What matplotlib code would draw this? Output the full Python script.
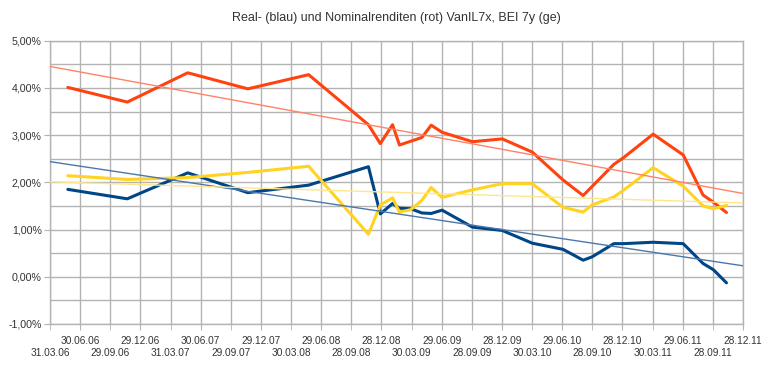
import matplotlib
matplotlib.use("Agg")
import matplotlib.pyplot as plt
import matplotlib.dates as mdates
from matplotlib.ticker import FixedLocator, FixedFormatter, FuncFormatter, MultipleLocator
import numpy as np
from datetime import datetime

# ---- data ----
dates = ["24.05.06", "20.11.06", "22.05.07", "20.11.07", "22.05.08", "19.11.08",
         "25.12.08", "31.01.09", "21.02.09", "27.03.09", "30.04.09", "28.05.09",
         "30.06.09", "30.09.09", "29.12.09", "30.03.10", "01.07.10", "31.08.10",
         "27.09.10", "02.12.10", "31.12.10", "31.03.11", "30.06.11", "29.08.11",
         "29.09.11", "08.11.11"]
nominal = [4.01, 3.70, 4.32, 3.98, 4.28, 3.22, 2.82, 3.22, 2.79, 2.87, 2.95, 3.21,
           3.06, 2.86, 2.92, 2.64, 2.05, 1.72, 1.91, 2.38, 2.52, 3.02, 2.58, 1.73,
           1.58, 1.36]
real = [1.85, 1.65, 2.20, 1.78, 1.94, 2.33, 1.33, 1.55, 1.45, 1.44, 1.35, 1.34,
        1.41, 1.05, 0.98, 0.71, 0.58, 0.35, 0.42, 0.70, 0.70, 0.73, 0.70, 0.28,
        0.15, -0.13]
bei = [2.14, 2.06, 2.10, 2.21, 2.34, 0.90, 1.52, 1.67, 1.37, 1.42, 1.62, 1.89,
       1.68, 1.84, 1.97, 1.97, 1.47, 1.37, 1.52, 1.69, 1.83, 2.31, 1.92, 1.50,
       1.44, 1.51]
tick_labels = ["31.03.06", "30.06.06", "29.09.06", "29.12.06", "31.03.07", "30.06.07",
               "29.09.07", "29.12.07", "30.03.08", "29.06.08", "28.09.08", "28.12.08",
               "30.03.09", "29.06.09", "28.09.09", "28.12.09", "30.03.10", "29.06.10",
               "28.09.10", "28.12.10", "30.03.11", "29.06.11", "28.09.11", "28.12.11"]
title = "Real- (blau) und Nominalrenditen (rot) VanIL7x, BEI 7y (ge)"

# ---- styling ----
plt.rcParams["font.family"] = ["Liberation Sans", "DejaVu Sans"]
grid_col = "#b3b3b3"
txt_col = "#333333"

def to_num(strs):
    return mdates.date2num([datetime.strptime(s, "%d.%m.%y") for s in strs])

x = to_num(dates)
xt = to_num(tick_labels)

W, H = 770, 365
fig = plt.figure(figsize=(W / 100, H / 100), dpi=100)
left, right, top, bottom = 50, 743, 40.7, 323.9
ax = fig.add_axes([left / W, 1 - bottom / H, (right - left) / W, (bottom - top) / H])

series = [
    (nominal, "#ff420e", "#ff8366"),
    (real, "#004586", "#4a78ac"),
    (bei, "#ffd320", "#ffe68a"),
]
for vals, col, tcol in series:
    ax.plot(x, vals, color=col, lw=2.2, solid_joinstyle="round", solid_capstyle="round", zorder=3)

xl = np.array([xt[0], xt[-1]])
for vals, col, tcol in series:
    k, d = np.polyfit(x, vals, 1)
    ax.plot(xl, k * xl + d, color=tcol, lw=1.0, zorder=4)

ax.set_xlim(xt[0], xt[-1])
ax.set_ylim(-1, 5)
ax.yaxis.set_major_locator(MultipleLocator(1))
ax.yaxis.set_minor_locator(MultipleLocator(0.5))
ax.yaxis.set_major_formatter(FuncFormatter(lambda v, p: f"{v:.2f}".replace(".", ",") + "%"))

# staggered date labels: odd ticks upper row (major), even ticks lower row (minor)
upper_idx = [i for i in range(len(tick_labels)) if i % 2 == 1]
lower_idx = [i for i in range(len(tick_labels)) if i % 2 == 0]
ax.xaxis.set_major_locator(FixedLocator([xt[i] for i in upper_idx]))
ax.xaxis.set_major_formatter(FixedFormatter([tick_labels[i] for i in upper_idx]))
ax.xaxis.set_minor_locator(FixedLocator([xt[i] for i in lower_idx]))
ax.xaxis.set_minor_formatter(FixedFormatter([tick_labels[i] for i in lower_idx]))

ax.grid(True, which="both", axis="y", color=grid_col, lw=1.0)
ax.grid(True, which="both", axis="x", color=grid_col, lw=1.0)
ax.set_axisbelow(True)
for s in ax.spines.values():
    s.set_color(grid_col)
    s.set_linewidth(1.0)
ax.tick_params(axis="x", which="major", length=4, color=grid_col, labelsize=7.3,
               labelcolor=txt_col, pad=4.4)
ax.tick_params(axis="x", which="minor", length=4, color=grid_col, labelsize=7.3,
               labelcolor=txt_col, pad=13.6)
ax.tick_params(axis="y", which="major", length=4, color=grid_col, labelsize=7.7,
               labelcolor=txt_col, pad=2)
ax.tick_params(axis="y", which="minor", length=0)

fig.text((left + right) / 2 / W, 1 - 18 / H, title, ha="center", va="center",
         fontsize=9, color=txt_col)

fig.savefig("out.png", dpi=100)
